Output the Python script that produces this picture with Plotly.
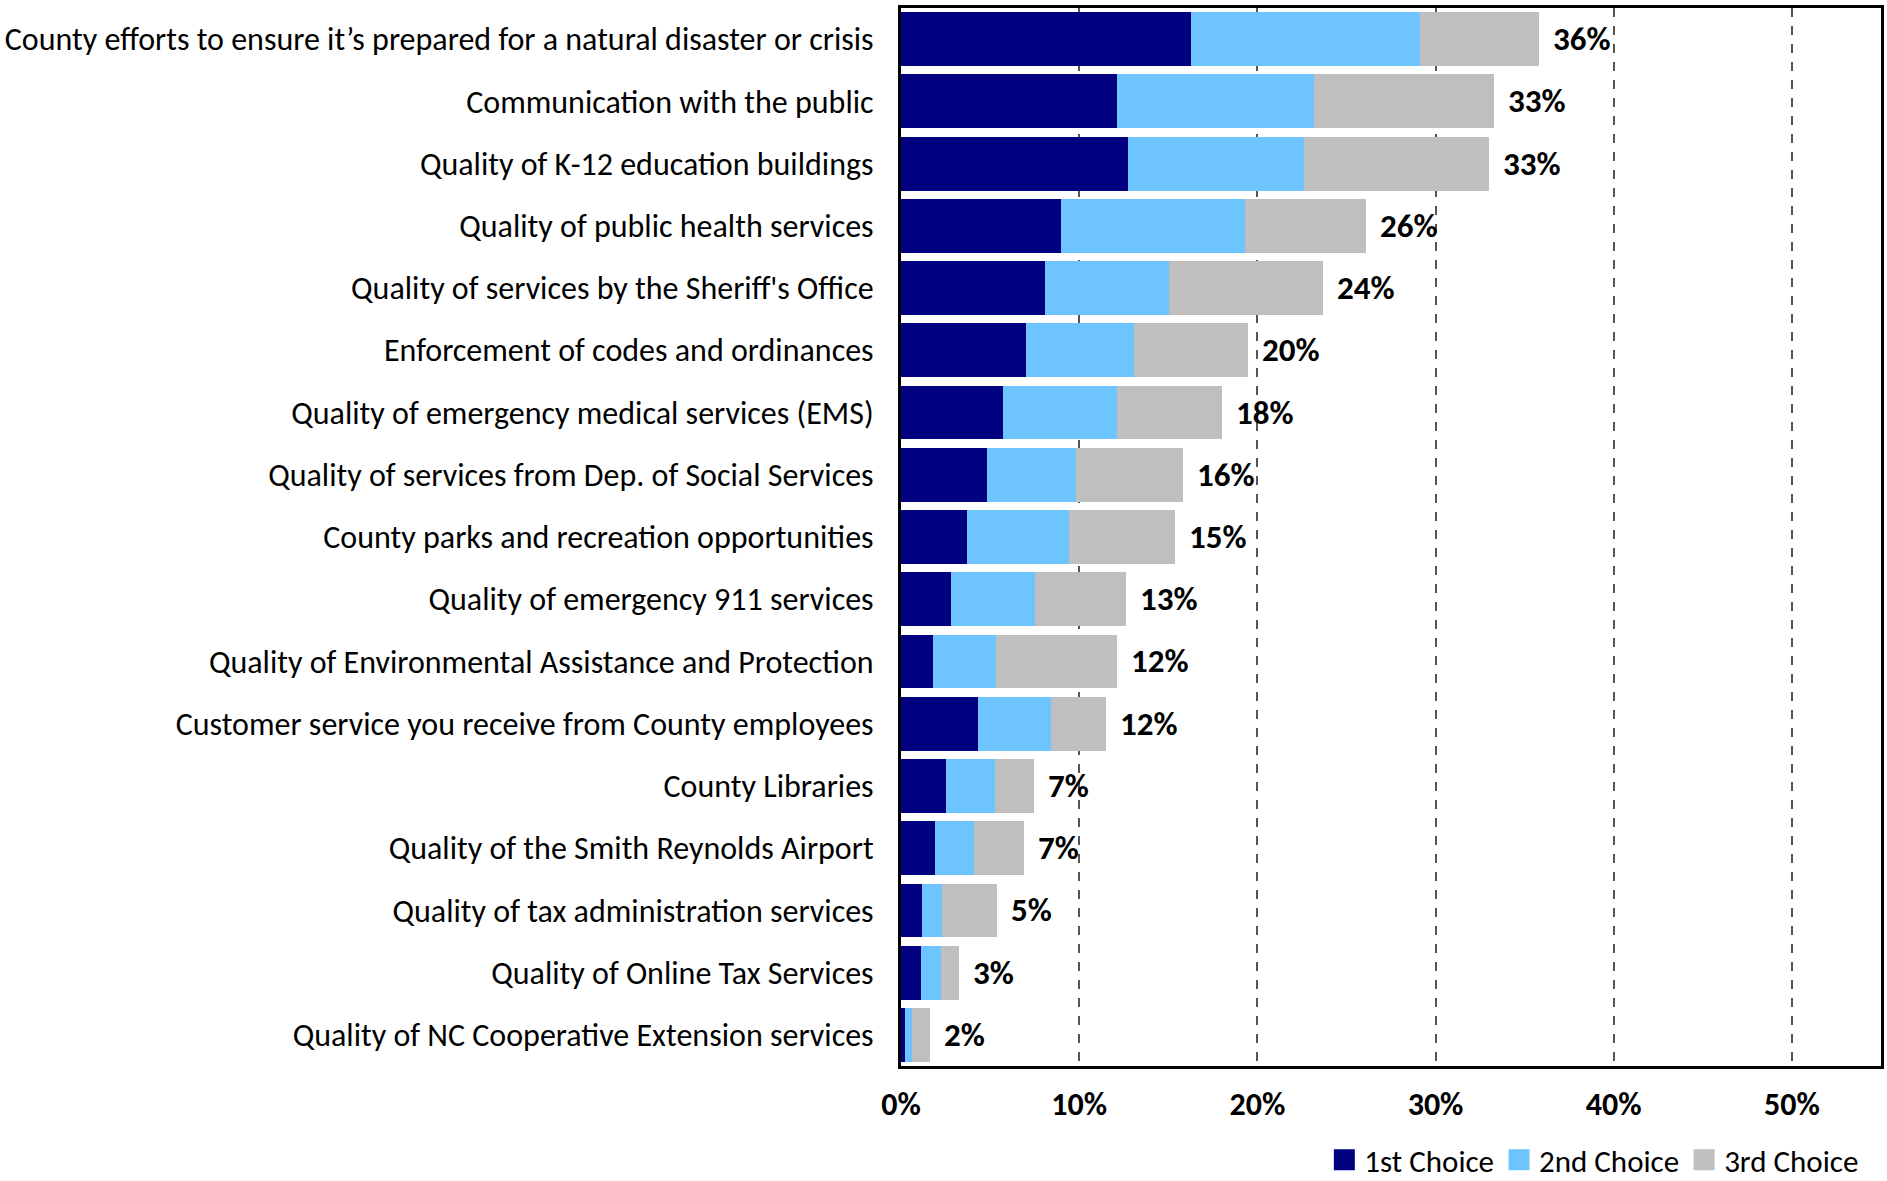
import plotly.graph_objects as go

# survey categories, top to bottom
categories = [
    "County efforts to ensure it\u2019s prepared for a natural disaster or crisis",
    "Communication with the public",
    "Quality of K-12 education buildings",
    "Quality of public health services",
    "Quality of services by the Sheriff's Office",
    "Enforcement of codes and ordinances",
    "Quality of emergency medical services (EMS)",
    "Quality of services from Dep. of Social Services",
    "County parks and recreation opportunities",
    "Quality of emergency 911 services",
    "Quality of Environmental Assistance and Protection",
    "Customer service you receive from County employees",
    "County Libraries",
    "Quality of the Smith Reynolds Airport",
    "Quality of tax administration services",
    "Quality of Online Tax Services",
    "Quality of NC Cooperative Extension services",
]

# percent of respondents
first_choice = [16.3, 12.1, 12.75, 9.0, 8.1, 7.0, 5.75, 4.85, 3.7, 2.8, 1.8, 4.3, 2.5, 1.9, 1.2, 1.1, 0.2]
second_choice = [12.8, 11.1, 9.85, 10.3, 6.95, 6.1, 6.35, 4.95, 5.75, 4.7, 3.55, 4.1, 2.8, 2.2, 1.1, 1.15, 0.4]
third_choice = [6.7, 10.1, 10.4, 6.8, 8.65, 6.4, 5.9, 6.0, 5.95, 5.1, 6.75, 3.1, 2.15, 2.8, 3.1, 1.0, 1.0]
total_labels = ["36%", "33%", "33%", "26%", "24%", "20%", "18%", "16%", "15%", "13%",
                "12%", "12%", "7%", "7%", "5%", "3%", "2%"]

series = [
    ("1st Choice", first_choice, "#000080"),
    ("2nd Choice", second_choice, "#6EC4FE"),
    ("3rd Choice", third_choice, "#BFBFBF"),
]

FONT = "Carlito, Calibri, Lato, sans-serif"

fig = go.Figure()
for name, vals, color in series:
    fig.add_trace(go.Bar(
        y=categories, x=[v / 100 for v in vals], name=name, orientation="h",
        marker=dict(color=color, line=dict(width=0)), showlegend=False,
    ))
    # bigger square swatch for the legend (outline in same colour fattens it)
    fig.add_trace(go.Scatter(
        x=[None], y=[None], mode="markers", name=name,
        marker=dict(symbol="square", size=26, color=color, line=dict(width=8, color=color)),
    ))

totals = [(a + b + c) / 100 for a, b, c in zip(first_choice, second_choice, third_choice)]
for cat, tot, lab in zip(categories, totals, total_labels):
    fig.add_annotation(x=tot, y=cat, text=lab, showarrow=False,
                       xanchor="left", xshift=12,
                       font=dict(size=33, color="black", family=FONT, weight="bold"))

fig.update_layout(
    width=1887, height=1181,
    barmode="stack", bargap=0.135,
    plot_bgcolor="white", paper_bgcolor="white",
    margin=dict(l=901, r=6, t=8, b=115, autoexpand=False),
    font=dict(family=FONT, size=32, color="black"),
    legend=dict(orientation="h", x=0.983, xanchor="right", y=-0.089, yanchor="middle",
                font=dict(size=31), traceorder="normal", itemwidth=30,
                tracegroupgap=0),
)
fig.update_xaxes(
    range=[0, 0.55], tickvals=[0, 0.1, 0.2, 0.3, 0.4, 0.5], tickformat=".0%",
    tickfont=dict(size=32, family=FONT, weight="bold"), ticklabelstandoff=8,
    showgrid=True, gridcolor="#555555", griddash="dash", gridwidth=1.5,
    zeroline=False, showline=True, linecolor="black", linewidth=3, mirror=True,
    automargin=False,
)
fig.update_yaxes(
    autorange="reversed", showgrid=False, ticklabelstandoff=18,
    tickfont=dict(size=32, family=FONT),
    showline=True, linecolor="black", linewidth=3, mirror=True,
    automargin=False,
)

# drop the default body margin so the figure sits at the page corner
fig.write_html("out.html", config={"displayModeBar": False},
               post_script="document.body.style.margin='0';")
